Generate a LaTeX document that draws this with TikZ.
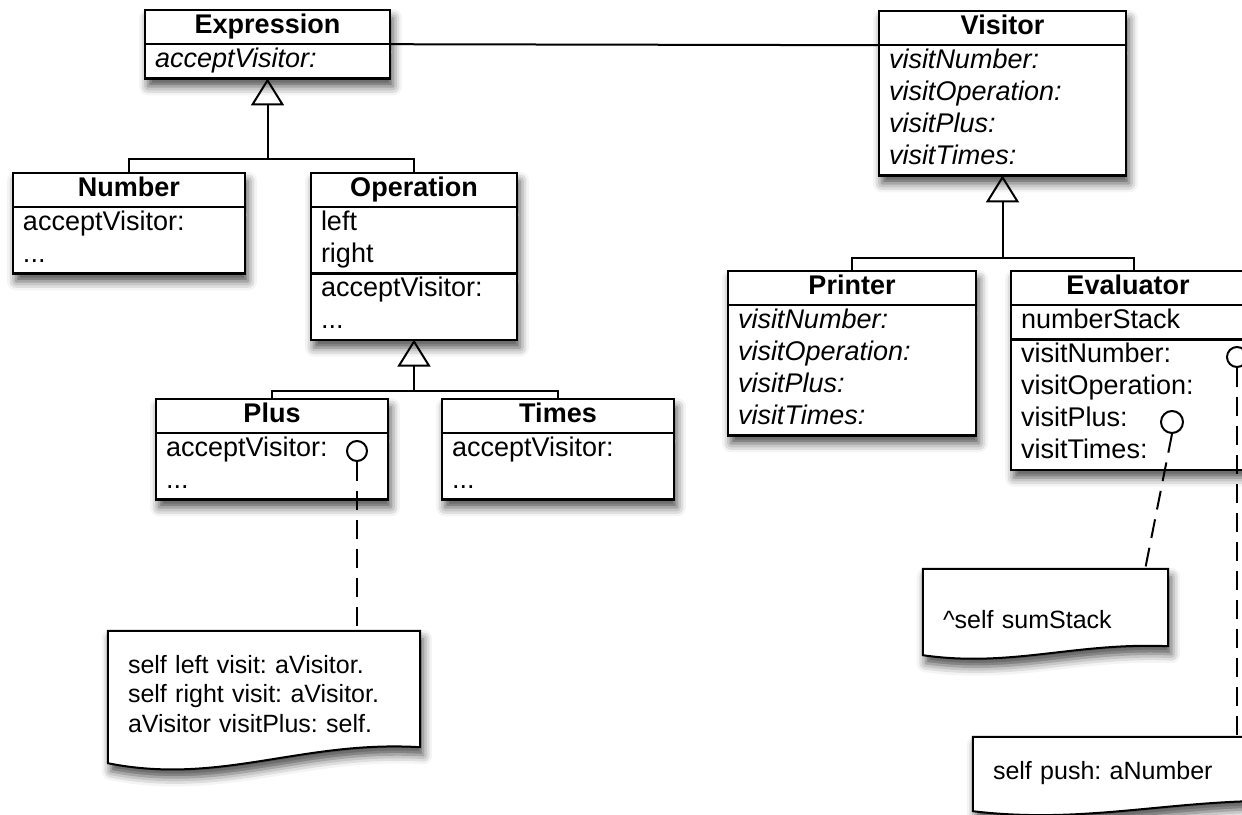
\documentclass[tikz,border=0pt]{standalone}
\usepackage{fontspec}
\setmainfont{Liberation Sans}
\frenchspacing
\usetikzlibrary{positioning,arrows.meta,shapes.multipart,shadows.blur,backgrounds,calc}

\newcommand{\umlfont}{\fontsize{27}{32}\selectfont}
\newcommand{\notefont}{\fontsize{25}{29.5}\selectfont}
% outline of a note: node name, rise of the wavy bottom edge
\newcommand{\drawnote}[2]{%
  \begin{scope}[on background layer]
    \filldraw[notebox] (#1.north west) -- (#1.north east) -- ([yshift=#2]#1.south east)
      .. controls ($(#1.south east)!0.38!(#1.south west)+(0pt,1.45*#2)$)
      and ($(#1.south east)!0.64!(#1.south west)+(0pt,-1.4*#2)$) .. (#1.south west) -- cycle;
  \end{scope}}

\begin{document}
\begin{tikzpicture}[
    x=1pt, y=-1pt,
    umlclass/.style = {rectangle split, rectangle split parts=#1, draw, fill=white,
        line width=2.2pt, font=\umlfont, align=left,
        rectangle split part align={center,left,left},
        inner xsep=10pt, inner ysep=0pt, outer sep=0pt, anchor=north west,
        blur shadow={shadow xshift=3pt, shadow yshift=-8pt, shadow blur radius=9pt, shadow opacity=70}},
    link/.style = {line width=2pt},
    inherit/.style = {link, -{Triangle[open, length=27pt, width=33pt]}},
    knob/.style = {circle, draw, line width=2pt, minimum size=20pt, inner sep=0pt},
    notelink/.style = {link, dash pattern=on 19pt off 10pt},
    note/.style = {rectangle, font=\notefont, align=left, inner xsep=20pt, inner ysep=0pt},
    notebox/.style = {draw, fill=white, line width=2pt,
        blur shadow={shadow xshift=3pt, shadow yshift=-8pt, shadow blur radius=9pt, shadow opacity=70}},
]
    \useasboundingbox (0,0) rectangle (1242,814);
    \clip (0,0) rectangle (1242,814);

    % expression side
    \node[umlclass=2, minimum width=245pt] (expr) at (145,10)
        {\strut\textbf{Expression}\nodepart{two}\strut\textit{acceptVisitor:}};
    \node[umlclass=2, minimum width=232pt] (number) at (13,173)
        {\strut\textbf{Number}\nodepart{two}\strut acceptVisitor:\\ ...\strut};
    \node[umlclass=3, minimum width=206pt] (operation) at (311,173)
        {\strut\textbf{Operation}\nodepart{two}\strut left\\ right\strut
         \nodepart{three}\strut acceptVisitor:\\ ...\strut};
    \node[umlclass=2, minimum width=232pt] (plus) at (156,399)
        {\strut\textbf{Plus}\nodepart{two}\strut acceptVisitor:\\ ...\strut};
    \node[umlclass=2, minimum width=232pt] (times) at (442,399)
        {\strut\textbf{Times}\nodepart{two}\strut acceptVisitor:\\ ...\strut};

    % visitor side
    \node[umlclass=2, minimum width=247pt] (visitor) at (879,11)
        {\strut\textbf{Visitor}\nodepart{two}\strut\textit{visitNumber:}\\ \textit{visitOperation:}\\
         \textit{visitPlus:}\\ \textit{visitTimes:}\strut};
    \node[umlclass=2, minimum width=248pt] (printer) at (728,271)
        {\strut\textbf{Printer}\nodepart{two}\strut\textit{visitNumber:}\\ \textit{visitOperation:}\\
         \textit{visitPlus:}\\ \textit{visitTimes:}\strut};
    \node[umlclass=3, minimum width=234pt] (evaluator) at (1011,271)
        {\strut\textbf{Evaluator}\nodepart{two}\strut numberStack
         \nodepart{three}\strut visitNumber:\\ visitOperation:\\ visitPlus:\\ visitTimes:\strut};

    % association
    \draw[link] (expr.one split east) -- (visitor.one split west);

    % inheritance
    \path (expr.south) ++(0,81) coordinate (exprjoin);
    \draw[link] (number.north) |- (exprjoin) -| (operation.north);
    \draw[inherit] (exprjoin) -- (expr.south);
    \path (operation.south) ++(0,51) coordinate (opjoin);
    \draw[link] (plus.north) |- (opjoin) -| (times.north);
    \draw[inherit] (opjoin) -- (operation.south);
    \path (visitor.south) ++(0,83) coordinate (visjoin);
    \draw[link] (printer.north) |- (visjoin) -| ([xshift=6pt]evaluator.north);
    \draw[inherit] (visjoin) -- (visitor.south);

    % notes
    \node[note, text width=272pt, minimum height=132pt] (acceptnote) at (264,697)
        {\strut self left visit: aVisitor.\\ self right visit: aVisitor.\\ aVisitor visitPlus: self.\strut};
    \node[note, text width=205pt, minimum height=86pt, text height=34pt, text depth=2pt] (sumnote) at (1045.5,612)
        {\textasciicircum self sumStack};
    \node[note, text width=290pt, minimum height=74pt] (pushnote) at (1138,774)
        {\strut self push: aNumber\strut};
    \drawnote{acceptnote}{16pt}
    \drawnote{sumnote}{9pt}
    \drawnote{pushnote}{10pt}

    % note anchors
    \node[knob] (acceptknob) at (357,451) {};
    \node[knob] (numknob) at (1237,357) {};
    \node[knob, minimum size=22pt] (plusknob) at (1172,422) {};
    \draw[notelink] (acceptknob.south) -- (acceptknob.south |- acceptnote.north);
    \draw[notelink] (plusknob.south) -- ([xshift=-23pt]sumnote.north east);
    \draw[notelink] (numknob.south) -- (numknob.south |- pushnote.north);
\end{tikzpicture}
\end{document}
